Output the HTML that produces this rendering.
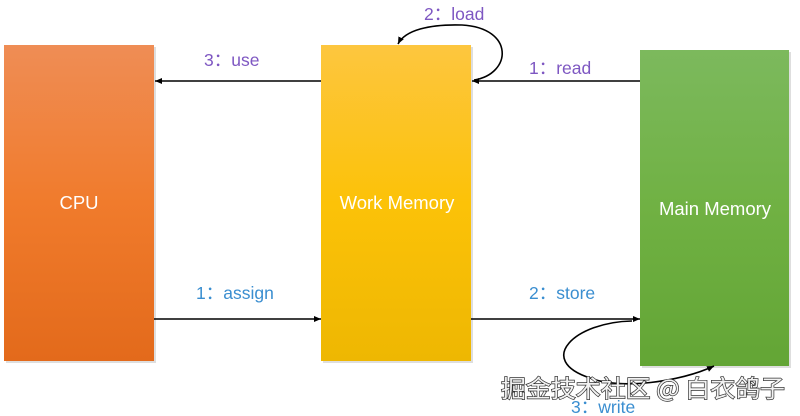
<!DOCTYPE html>
<html>
<head>
<meta charset="utf-8">
<style>
  html,body{margin:0;padding:0;background:#fff;}
  body{width:800px;height:416px;overflow:hidden;}
  svg{display:block;}
  .lbl{font-family:"Liberation Sans","Noto Sans CJK SC",sans-serif;font-size:17.5px;}
  .box{font-family:"Liberation Sans",sans-serif;font-size:18.5px;fill:#fff;}
</style>
</head>
<body>
<svg width="800" height="416" viewBox="0 0 800 416" xmlns="http://www.w3.org/2000/svg">
  <defs>
    <linearGradient id="gO" x1="0" y1="0" x2="0" y2="1">
      <stop offset="0" stop-color="#ef8d55"/>
      <stop offset="0.5" stop-color="#f07b2c"/>
      <stop offset="1" stop-color="#e36a1b"/>
    </linearGradient>
    <linearGradient id="gY" x1="0" y1="0" x2="0" y2="1">
      <stop offset="0" stop-color="#fdc63f"/>
      <stop offset="0.5" stop-color="#fcc208"/>
      <stop offset="1" stop-color="#eeb702"/>
    </linearGradient>
    <linearGradient id="gG" x1="0" y1="0" x2="0" y2="1">
      <stop offset="0" stop-color="#7cb95d"/>
      <stop offset="0.5" stop-color="#70b143"/>
      <stop offset="1" stop-color="#63a535"/>
    </linearGradient>
    <marker id="ah" markerWidth="8" markerHeight="8" refX="7" refY="4" orient="auto" markerUnits="userSpaceOnUse">
      <path d="M0,1 L7,4 L0,7 Z" fill="#000"/>
    </marker>
  </defs>

  <!-- shadows -->
  <rect x="6" y="47" width="150" height="316" fill="#c8c8c8" opacity="0.6"/>
  <rect x="323" y="47" width="150" height="316" fill="#c8c8c8" opacity="0.6"/>
  <rect x="642" y="52" width="149" height="316" fill="#c8c8c8" opacity="0.6"/>

  <!-- boxes -->
  <rect x="4" y="45" width="150" height="316" fill="url(#gO)"/>
  <rect x="321" y="45" width="150" height="316" fill="url(#gY)"/>
  <rect x="640" y="50" width="149" height="316" fill="url(#gG)"/>

  <text class="box" x="79" y="209" text-anchor="middle">CPU</text>
  <text class="box" x="397" y="209" text-anchor="middle">Work Memory</text>
  <text class="box" x="715" y="215" text-anchor="middle">Main Memory</text>

  <!-- straight arrows -->
  <line x1="321" y1="81" x2="155" y2="81" stroke="#000" stroke-width="1.6" marker-end="url(#ah)"/>
  <line x1="640" y1="81" x2="472" y2="81" stroke="#000" stroke-width="1.6" marker-end="url(#ah)"/>
  <line x1="154" y1="319" x2="321" y2="319" stroke="#000" stroke-width="1.6" marker-end="url(#ah)"/>
  <line x1="471" y1="319" x2="640" y2="319" stroke="#000" stroke-width="1.6" marker-end="url(#ah)"/>

  <!-- load loop -->
  <path d="M474 80 C512 74, 515 28, 462 25 C430 24, 405 30, 398 44" fill="none" stroke="#000" stroke-width="1.6" marker-end="url(#ah)"/>
  <!-- write loop -->
  <path d="M632 321 C575 322, 535 360, 590 378 C620 390, 680 382, 714 366" fill="none" stroke="#000" stroke-width="1.6" marker-end="url(#ah)"/>

  <!-- labels -->
  <text class="lbl" x="424" y="20" fill="#7e57c2">2：load</text>
  <text class="lbl" x="529" y="74" fill="#7e57c2">1：read</text>
  <text class="lbl" x="204" y="66" fill="#7e57c2">3：use</text>
  <text class="lbl" x="196" y="299" fill="#3a8ed0">1：assign</text>
  <text class="lbl" x="529" y="299" fill="#3a8ed0">2：store</text>
  <text class="lbl" x="571" y="413" fill="#3a8ed0">3：write</text>

  <!-- watermark -->
  <text x="501" y="397" font-family="'Noto Sans CJK SC','WenQuanYi Zen Hei',sans-serif" font-size="24" fill="#f2f2f2" stroke="#333" stroke-width="1.4" paint-order="stroke" textLength="284" lengthAdjust="spacingAndGlyphs">掘金技术社区 @ 白衣鸽子</text>
</svg>
</body>
</html>
